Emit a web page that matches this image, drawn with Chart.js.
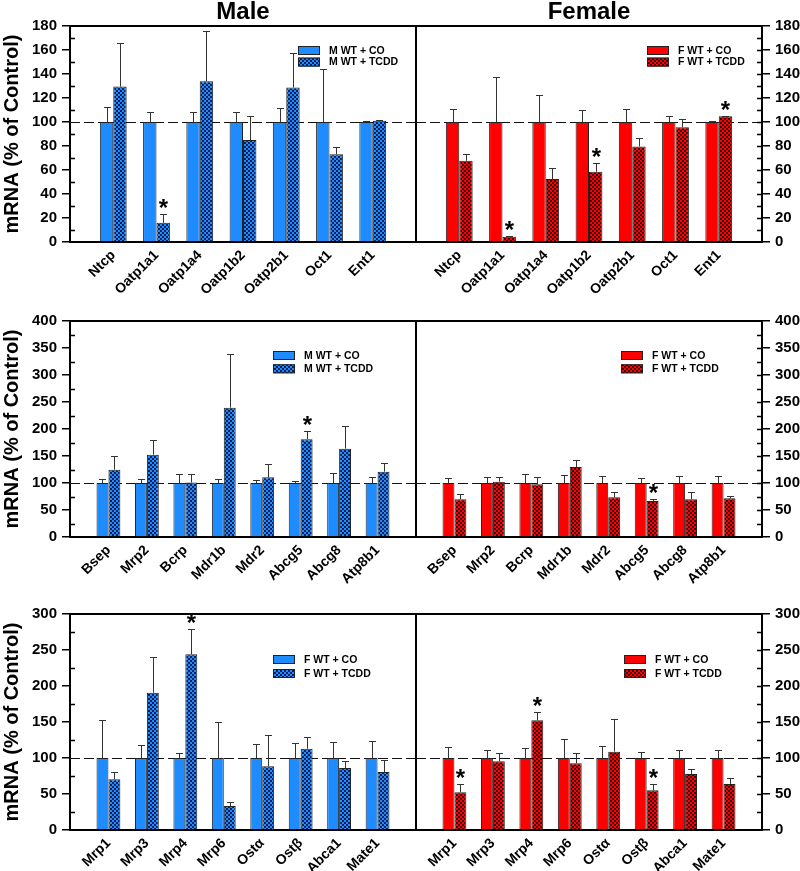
<!DOCTYPE html>
<html>
<head>
<meta charset="utf-8">
<script src="https://cdn.jsdelivr.net/npm/chart.js@4.4.0/dist/chart.umd.min.js"></script>
<style>
  body { margin: 0; background: #fff; overflow: hidden; }
  #wrap { position: relative; width: 800px; height: 871px; overflow: hidden; }
  #wrap canvas { position: absolute; left: 0; top: 0; }
</style>
</head>
<body>
<div id="wrap">
  <canvas id="r1m" width="800" height="900"></canvas>
  <canvas id="r1f" width="800" height="900"></canvas>
  <canvas id="r2m" width="800" height="900"></canvas>
  <canvas id="r2f" width="800" height="900"></canvas>
  <canvas id="r3m" width="800" height="900"></canvas>
  <canvas id="r3f" width="800" height="900"></canvas>
</div>
<script>
// categories
var cats1 = ['Ntcp', 'Oatp1a1', 'Oatp1a4', 'Oatp1b2', 'Oatp2b1', 'Oct1', 'Ent1'];
var cats2 = ['Bsep', 'Mrp2', 'Bcrp', 'Mdr1b', 'Mdr2', 'Abcg5', 'Abcg8', 'Atp8b1'];
var cats3 = ['Mrp1', 'Mrp3', 'Mrp4', 'Mrp6', 'Ostα', 'Ostβ', 'Abca1', 'Mate1'];

// y axis ranges
var yMax1 = 180, yStep1 = 20;
var yMax2 = 400, yStep2 = 50;
var yMax3 = 300, yStep3 = 50;

// row 1 - male
var mCo1 = [100, 100, 100, 100, 100, 100, 100];
var mCoErr1 = [12.3, 8, 8, 8, 11.5, 44, 0.5];
var mTcdd1 = [129.5, 16, 134, 85, 128.7, 73.2, 101];
var mTcddErr1 = [36.4, 7.6, 41.8, 19.6, 28.6, 5.6, 0.8];
var mSig1 = [0, 1, 0, 0, 0, 0, 0];
// row 1 - female
var fCo1 = [100, 100, 100, 100, 100, 100, 100];
var fCoErr1 = [11.2, 37.8, 22.6, 10.4, 10.7, 5.1, 1.2];
var fTcdd1 = [67.7, 4.4, 52.4, 58.5, 79.6, 95.7, 104.8];
var fTcddErr1 = [5.5, 0.9, 9.2, 7.2, 6.9, 6.6, 0.6];
var fSig1 = [0, 1, 0, 1, 0, 0, 1];

// row 2 - male
var mCo2 = [100, 100, 100, 100, 100, 100, 100, 100];
var mCoErr2 = [8, 7.5, 17, 7.4, 6, 4.3, 18.5, 11];
var mTcdd2 = [124.7, 152.5, 101, 239.5, 110.5, 181, 163.6, 121];
var mTcddErr2 = [25.9, 27.5, 15.7, 100, 25.3, 16, 41.4, 15.4];
var mSig2 = [0, 0, 0, 0, 0, 1, 0, 0];
// row 2 - female
var fCo2 = [100, 100, 100, 100, 100, 100, 100, 100];
var fCoErr2 = [9.9, 11, 17, 15.4, 13.6, 9.3, 12.3, 13.6];
var fTcdd2 = [69.8, 102.5, 97.5, 129.6, 73.5, 66.7, 69.8, 71.6];
var fTcddErr2 = [9.8, 8.5, 13.5, 13.6, 9.2, 4.3, 12.9, 4.3];
var fSig2 = [0, 0, 0, 0, 0, 1, 0, 0];

// row 3 - male panel
var mCo3 = [100, 100, 100, 100, 100, 100, 100, 100];
var mCoErr3 = [52.8, 17.6, 7.4, 50.5, 19, 20.4, 21.8, 23.6];
var mTcdd3 = [70.4, 190.7, 244, 33.3, 88.4, 113, 86, 80.6];
var mTcddErr3 = [10.6, 49.6, 35.6, 5.6, 43.1, 16.6, 9.4, 17.1];
var mSig3 = [0, 0, 1, 0, 0, 0, 0, 0];
// row 3 - female panel
var fCo3 = [100, 100, 100, 100, 100, 100, 100, 100];
var fCoErr3 = [15, 11.6, 13.9, 25.9, 16.2, 7.9, 10.6, 11];
var fTcdd3 = [52.4, 95.4, 152.3, 92.6, 108.8, 55.1, 77.8, 63.9];
var fTcddErr3 = [11.6, 11.1, 11.6, 14.8, 44.9, 8.8, 6.5, 8.3];
var fSig3 = [1, 0, 1, 0, 0, 1, 0, 0];

var FONT = 'Arial, "Liberation Sans", sans-serif';
var H = 900;
var BLUE = '#1e8cff', BLUE_DARK = '#0a2058';
var RED = '#ff0000', RED_DARK = '#420000';

function hatch(base, dark) {
  var c = document.createElement('canvas');
  c.width = 4; c.height = 4;
  var g = c.getContext('2d');
  g.fillStyle = dark;
  g.fillRect(0, 0, 4, 4);
  g.fillStyle = base;
  g.fillRect(0, 0, 2, 2);
  g.fillRect(2, 2, 2, 2);
  return g.createPattern(c, 'repeat');
}

// pad with an empty slot on each side so bars sit at 1..n of n+1
function pad(a) { return [null].concat(a, [null]); }

var decor = {
  id: 'decor',
  beforeDatasetsDraw: function(chart, args, o) {
    var ctx = chart.ctx, a = chart.chartArea, y = chart.scales.y;
    var yy = Math.round(y.getPixelForValue(100)) + 0.5;
    ctx.save();
    ctx.strokeStyle = '#111';
    ctx.lineWidth = 1.2;
    ctx.setLineDash([10, 4]);
    ctx.beginPath();
    ctx.moveTo(a.left, yy);
    ctx.lineTo(a.right, yy);
    ctx.stroke();
    ctx.restore();
  },
  afterDatasetsDraw: function(chart, args, o) {
    var ctx = chart.ctx, y = chart.scales.y;
    ctx.save();
    chart.data.datasets.forEach(function(ds, di) {
      var meta = chart.getDatasetMeta(di);
      meta.data.forEach(function(bar, j) {
        var v = ds.data[j];
        if (v == null) return;
        var x = Math.round(bar.x) + 0.5;
        var y0 = y.getPixelForValue(v);
        var y1 = Math.round(y.getPixelForValue(v + ds.err[j])) + 0.5;
        ctx.strokeStyle = '#333';
        ctx.lineWidth = 1;
        ctx.beginPath();
        ctx.moveTo(x, y0);
        ctx.lineTo(x, y1);
        ctx.moveTo(x - 3.5, y1);
        ctx.lineTo(x + 3.5, y1);
        ctx.stroke();
        if (ds.sig[j]) {
          ctx.fillStyle = '#000';
          ctx.font = 'bold 24px ' + FONT;
          ctx.textAlign = 'center';
          ctx.textBaseline = 'alphabetic';
          ctx.fillText('*', x, y1 + 1);
        }
      });
    });
    ctx.restore();
  },
  afterDraw: function(chart, args, o) {
    var ctx = chart.ctx, a = chart.chartArea, y = chart.scales.y;
    ctx.save();
    ctx.strokeStyle = '#000';
    ctx.lineWidth = 2;
    ctx.beginPath();
    ctx.moveTo(a.left - 1, a.top);
    ctx.lineTo(a.right + 1, a.top);
    if (o.side === 'left') {
      ctx.moveTo(a.right, a.top);
      ctx.lineTo(a.right, a.bottom);
    }
    ctx.stroke();

    // inward minor ticks
    ctx.lineWidth = 1.5;
    ctx.beginPath();
    for (var v = o.step / 2; v < o.max; v += o.step / 2) {
      var isMajor = Math.abs(v / o.step - Math.round(v / o.step)) < 1e-6;
      if (isMajor && o.side === 'left') continue;
      var py = Math.round(y.getPixelForValue(v)) + 0.5;
      if (o.side === 'left') {
        ctx.moveTo(a.left, py); ctx.lineTo(a.left + 5, py);
      } else {
        ctx.moveTo(a.right, py); ctx.lineTo(a.right - 5, py);
      }
    }
    ctx.stroke();

    // legend
    ctx.font = 'bold 10.5px ' + FONT;
    ctx.textAlign = 'left';
    ctx.textBaseline = 'middle';
    chart.data.datasets.forEach(function(ds, i) {
      var ly = o.legY + i * o.legPitch;
      ctx.fillStyle = ds.backgroundColor;
      ctx.fillRect(o.legX, ly, 22, 9);
      ctx.strokeStyle = '#222';
      ctx.lineWidth = 1;
      ctx.strokeRect(o.legX + 0.5, ly + 0.5, 21, 8);
      ctx.fillStyle = '#000';
      ctx.fillText(ds.label, o.legX + 31, ly + 5);
    });

    if (o.title) {
      ctx.font = 'bold 24px ' + FONT;
      ctx.textAlign = 'center';
      ctx.textBaseline = 'alphabetic';
      ctx.fillStyle = '#000';
      ctx.fillText(o.title, (a.left + a.right) / 2, 19);
    }
    ctx.restore();
  }
};

function makeChart(id, p) {
  var left = p.side === 'left';
  var bottomPad = H - p.bottom - p.xh;
  new Chart(document.getElementById(id), {
    type: 'bar',
    data: {
      labels: pad(p.cats).map(function(c) { return c || ''; }),
      datasets: [
        {
          label: p.coLabel,
          data: pad(p.co),
          err: pad(p.coErr),
          sig: pad(p.co.map(function() { return 0; })),
          backgroundColor: p.color,
          borderColor: '#222',
          borderWidth: 1,
          categoryPercentage: 0.62,
          barPercentage: 1
        },
        {
          label: p.tcddLabel,
          data: pad(p.tcdd),
          err: pad(p.tcddErr),
          sig: pad(p.sig),
          backgroundColor: hatch(p.color, p.dark),
          borderColor: '#222',
          borderWidth: 1,
          categoryPercentage: 0.62,
          barPercentage: 1
        }
      ]
    },
    options: {
      responsive: false,
      animation: false,
      layout: {
        padding: { left: left ? 0 : 416, right: left ? 384 : 0, top: p.top, bottom: bottomPad }
      },
      plugins: {
        legend: { display: false },
        tooltip: { enabled: false },
        decor: { side: p.side, step: p.yStep, max: p.yMax, legX: p.legX, legY: p.legY, legPitch: p.legPitch, title: p.title }
      },
      scales: {
        x: {
          offset: false,
          afterFit: function(s) { s.height = p.xh; },
          grid: { display: false, drawTicks: false },
          border: { display: true, color: '#000', width: 2 },
          ticks: {
            autoSkip: false, maxRotation: 45, minRotation: 45, padding: 5,
            color: '#000', font: { family: FONT, size: 14, weight: 'bold' }
          }
        },
        y: {
          position: p.side,
          min: 0,
          max: p.yMax,
          afterFit: function(s) { s.width = left ? 70 : 38; },
          ticks: {
            stepSize: p.yStep, padding: 5, color: '#000',
            font: { family: FONT, size: 15, weight: 'bold' }
          },
          grid: { drawOnChartArea: false, tickLength: 8, color: '#000', lineWidth: 1.5 },
          border: { display: true, color: '#000', width: 2 },
          title: {
            display: left,
            text: 'mRNA (% of Control)',
            color: '#000',
            padding: 0,
            font: { family: FONT, size: 20, weight: 'bold' }
          }
        }
      }
    },
    plugins: [decor]
  });
}

makeChart('r1m', { side: 'left', cats: cats1, co: mCo1, coErr: mCoErr1, tcdd: mTcdd1, tcddErr: mTcddErr1, sig: mSig1,
  coLabel: 'M WT + CO', tcddLabel: 'M WT + TCDD', color: BLUE, dark: BLUE_DARK, yMax: yMax1, yStep: yStep1,
  top: 26, bottom: 242, xh: 60, legX: 298, legY: 46, legPitch: 11.6, title: 'Male' });
makeChart('r1f', { side: 'right', cats: cats1, co: fCo1, coErr: fCoErr1, tcdd: fTcdd1, tcddErr: fTcddErr1, sig: fSig1,
  coLabel: 'F WT + CO', tcddLabel: 'F WT + TCDD', color: RED, dark: RED_DARK, yMax: yMax1, yStep: yStep1,
  top: 26, bottom: 242, xh: 60, legX: 647, legY: 46, legPitch: 11.6, title: 'Female' });

makeChart('r2m', { side: 'left', cats: cats2, co: mCo2, coErr: mCoErr2, tcdd: mTcdd2, tcddErr: mTcddErr2, sig: mSig2,
  coLabel: 'M WT + CO', tcddLabel: 'M WT + TCDD', color: BLUE, dark: BLUE_DARK, yMax: yMax2, yStep: yStep2,
  top: 321, bottom: 537, xh: 55, legX: 273, legY: 351, legPitch: 13.3 });
makeChart('r2f', { side: 'right', cats: cats2, co: fCo2, coErr: fCoErr2, tcdd: fTcdd2, tcddErr: fTcddErr2, sig: fSig2,
  coLabel: 'F WT + CO', tcddLabel: 'F WT + TCDD', color: RED, dark: RED_DARK, yMax: yMax2, yStep: yStep2,
  top: 321, bottom: 537, xh: 55, legX: 621, legY: 351, legPitch: 13.3 });

makeChart('r3m', { side: 'left', cats: cats3, co: mCo3, coErr: mCoErr3, tcdd: mTcdd3, tcddErr: mTcddErr3, sig: mSig3,
  coLabel: 'F WT + CO', tcddLabel: 'F WT + TCDD', color: BLUE, dark: BLUE_DARK, yMax: yMax3, yStep: yStep3,
  top: 614, bottom: 830, xh: 55, legX: 273, legY: 655, legPitch: 14 });
makeChart('r3f', { side: 'right', cats: cats3, co: fCo3, coErr: fCoErr3, tcdd: fTcdd3, tcddErr: fTcddErr3, sig: fSig3,
  coLabel: 'F WT + CO', tcddLabel: 'F WT + TCDD', color: RED, dark: RED_DARK, yMax: yMax3, yStep: yStep3,
  top: 614, bottom: 830, xh: 55, legX: 624, legY: 655, legPitch: 14 });
</script>
</body>
</html>
